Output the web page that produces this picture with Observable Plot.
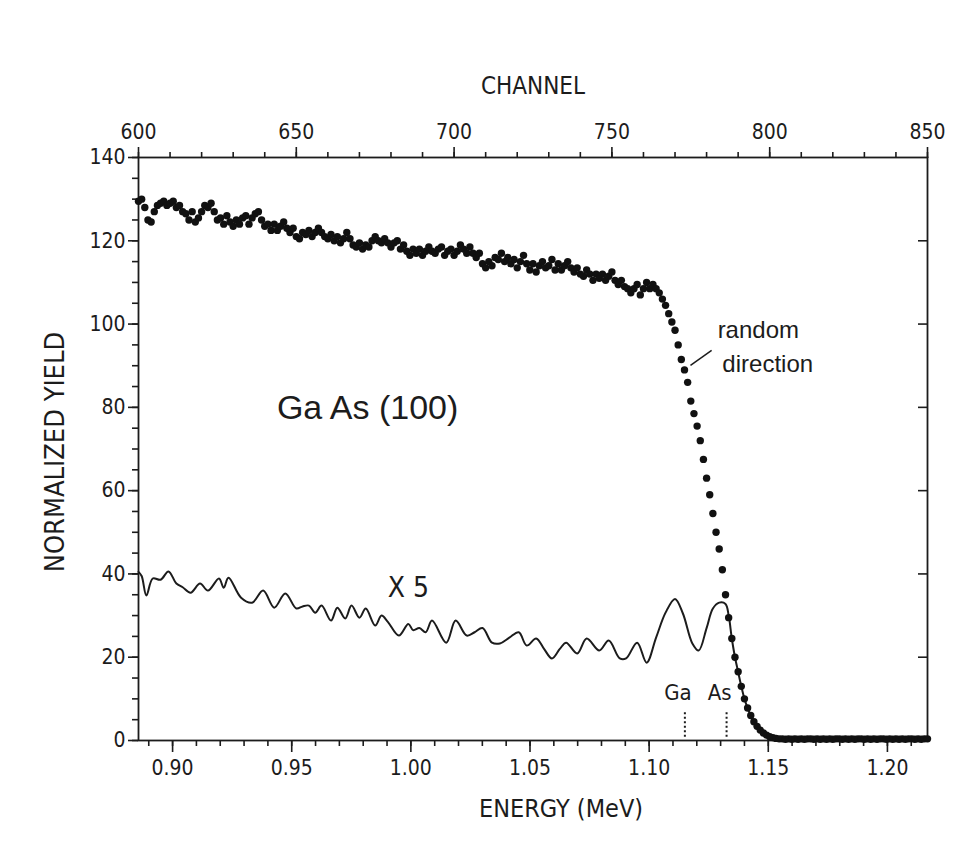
<!DOCTYPE html>
<html><head><meta charset="utf-8">
<script src="https://cdn.jsdelivr.net/npm/d3@7"></script>
<script src="https://cdn.jsdelivr.net/npm/@observablehq/plot@0.6"></script>
<style>
html,body{margin:0;padding:0;background:#fff;}
#chart svg{display:block;}
</style></head><body><div id="chart"></div>
<script>
// ---- axis tick values ----
const channelTicks = [600, 650, 700, 750, 800, 850];
const channelMinorTicks = d3.range(600, 851, 10);
const energyTicks = [0.90, 0.95, 1.00, 1.05, 1.10, 1.15, 1.20];
const energyMinorTicks = d3.range(89, 122).map(d => d / 100);
const yieldTicks = [0, 20, 40, 60, 80, 100, 120, 140];
const yieldMinorTicks = d3.range(0, 141, 5);
const rightTicks = [20, 40, 60, 80, 100, 120];

// ---- energy calibration (channel = offset + slope * (E - 0.90)) ----
const channelAt090 = 610.8;
const channelsPerMeV = 755;
const e2c = e => channelAt090 + (e - 0.90) * channelsPerMeV;
const c2e = c => 0.90 + (c - channelAt090) / channelsPerMeV;

// ---- random direction spectrum: one value per channel, from 600 ----
const randomStartChannel = 600;
const randomYield = [
  129.5,130,128,125,124.5,127,128.5,129,129.5,128.5,
  129,129.5,128,128.5,127,126.5,125,127,124.5,125.5,
  127,128.5,128,129,127,125,125.5,124,126,124.5,
  123.5,125,124,125.5,126,124,125.5,126.5,127,125,
  123.5,124,122.5,124,122.5,123.5,124.5,123,122,123,
  121,120.5,122,121.5,122.5,121,122,123,122,121,
  120.5,121.5,120,121,119.5,120.5,122,120.5,119,118.5,
  119.5,118,119,118.5,120,121,120,119.5,120.5,119.5,
  118.5,119.5,120,118,119,117.5,116.5,118,117,118,
  116.5,117.5,118.5,117.5,117,118,118.5,116.5,117.5,118,
  116.5,117.5,119,118,117,118.5,117,116,117,114.5,
  113.5,115,114,116,115.5,117,115,116,114.5,115.5,
  113.5,115,116.5,114.5,113,114.5,112.5,114,115,113.5,
  114,115.5,113,114.5,113,114,115,113.5,112.5,113.5,
  112,111.5,113,112,110.5,112,111,112,110.5,111.5,
  112.5,110.5,109.5,110.5,109,108.5,107.5,108.5,109.5,107,
  108.5,110,108.5,109.5,108.5,107.5,106,104.5,102.5,100.5,
  98.5,95,91.5,89,86,81.5,78.5,75.5,72,67.5,
  63,59,54.5,50,46,41,35,29.5,24.5,20,
  16.5,13,10,7.8,6,4.5,3.4,2.5,1.8,1.3,
  0.9,0.7,0.5,0.4,0.4,0.3,0.4,0.3,0.4,0.3,
  0.4,0.3,0.4,0.4,0.3,0.4,0.3,0.4,0.3,0.4,
  0.3,0.4,0.4,0.3,0.4,0.3,0.4,0.3,0.4,0.4,
  0.3,0.4,0.3,0.4,0.3,0.4,0.4,0.3,0.4,0.3,
  0.4,0.3,0.4,0.3,0.4,0.4,0.3,0.4,0.3,0.4,
  0.4
];

// ---- aligned spectrum (x5): vertices ----
const x5Channel = [600,601,602.5,604.5,607,609.5,612,614,616.5,619.5,622,625.5,627,628.5,632.5,636,639.5,643,646.5,650,652,654,656,658,661,663,665.5,667.5,670,672,675,677,679,682.5,685.5,687,689,691,693,697.5,700.5,704,706.5,709,712,714.5,717.5,720.5,723,726,728.5,731,733.5,735.5,739,742,746,749,752.5,754.5,758,761,764,767,770,772.5,775.5,777.5,780,782,784,786,787,788,789,790,791,792,793,794,795,796,797,798,799,800,802,850];
const x5Yield = [40.5,39.5,34.8,38.9,38.6,40.6,37.7,36.8,35.5,37.7,36,38.9,36.7,39.1,34.3,33.1,36,31.9,35.3,31.7,32.2,32.4,30.7,32.4,28.8,31.9,29.3,32.4,29.5,31.7,27.6,30,28.5,25.2,28,26.5,27,26,28.8,23.5,28.8,25.2,26,27,23.5,23.3,24.7,26,22.8,24.5,22,19.7,22,23.5,20.9,24.5,21.6,24,19.7,19.7,23.5,18.7,24.7,30.7,34,30.5,23.3,21.6,27,31.7,33.1,32.8,30,24.5,20,16.5,13,10,7.8,6,4.5,3.4,2.5,1.8,1.3,0.9,0.5,0.4];

// ---- surface edge markers ----
const edgeLabels = ["Ga", "As"];
const edgeEnergy = [1.115, 1.1325];

const randomData = randomYield.map((v, i) => ({channel: randomStartChannel + i, yield: v}));
const x5Data = x5Channel.map((c, i) => ({channel: c, yield: x5Yield[i]}));
const edgeData = edgeLabels.map((l, i) => ({label: l, channel: e2c(edgeEnergy[i])}));

const FONT = "'Liberation Sans Narrow','DejaVu Sans Condensed','Roboto Condensed',sans-serif";
const FONT2 = "'Liberation Sans',Arial,sans-serif";
const INK = "#1c1c1c";
const fmtE = d3.format(".2f");

const plot = Plot.plot({
  width: 953,
  height: 848,
  marginTop: 157,
  marginBottom: 108,
  marginLeft: 138,
  marginRight: 26,
  x: {domain: [600, 850]},
  y: {domain: [0, 140]},
  style: {fontFamily: FONT, fontSize: "21px", color: INK, background: "#fff", overflow: "visible"},
  marks: [
    // top channel axis
    Plot.axisX({anchor: "top", ticks: channelMinorTicks, tickSize: 6, tickFormat: () => "", label: null, strokeWidth: 1.6}),
    Plot.axisX({anchor: "top", ticks: channelTicks, tickSize: 11, tickPadding: 8, tickFormat: d => String(d), label: null, fontSize: 21, strokeWidth: 1.6}),
    // bottom energy axis
    Plot.axisX({anchor: "bottom", ticks: energyMinorTicks.map(e2c), tickSize: 6, tickFormat: () => "", label: null, strokeWidth: 1.6}),
    Plot.axisX({anchor: "bottom", ticks: energyTicks.map(e2c), tickSize: 12, tickPadding: 8, tickFormat: d => fmtE(c2e(d)), label: null, fontSize: 21, strokeWidth: 1.6}),
    // left yield axis
    Plot.axisY({anchor: "left", ticks: yieldMinorTicks, tickSize: 6, tickFormat: () => "", label: null, strokeWidth: 1.6}),
    Plot.axisY({anchor: "left", ticks: yieldTicks, tickSize: 10, tickPadding: 3, label: null, fontSize: 21, strokeWidth: 1.6}),
    // right inward ticks
    Plot.tickY(rightTicks, {y: d => d, insetLeft: 780, stroke: INK, strokeWidth: 1.6}),
    Plot.frame({stroke: INK, strokeWidth: 1.8}),
    // spectra
    Plot.line(x5Data, {x: "channel", y: "yield", curve: "catmull-rom", stroke: INK, strokeWidth: 2}),
    Plot.dot(randomData, {x: "channel", y: "yield", r: 3.7, fill: "#111", stroke: null}),
    // edge markers
    Plot.ruleX(edgeData, {x: "channel", y1: 0.8, y2: 6.8, stroke: INK, strokeWidth: 2, strokeDasharray: "2,2.5"}),
    Plot.text(edgeData, {x: "channel", y: 11.3, text: "label", dx: -7, fontSize: 22, fill: INK}),
    // annotations
    Plot.text(["Ga As (100)"], {x: 672.6, y: 79.7, fontSize: 34, fontFamily: FONT2, fill: INK}),
    Plot.text(["X 5"], {x: 685.5, y: 36.7, fontSize: 28, fill: INK}),
    Plot.text(["random"], {x: 783.5, y: 98.5, textAnchor: "start", fontSize: 24, fontFamily: FONT2, fill: INK}),
    Plot.text(["direction"], {x: 785, y: 90.3, textAnchor: "start", fontSize: 24, fontFamily: FONT2, fill: INK}),
    Plot.link([{x1: 781.6, y1: 93.7, x2: 774.9, y2: 90.1}], {x1: "x1", y1: "y1", x2: "x2", y2: "y2", stroke: INK, strokeWidth: 1.5}),
    // axis titles
    Plot.text(["CHANNEL"], {frameAnchor: "top", dy: -71, lineAnchor: "middle", fontSize: 24, fill: INK}),
    Plot.text(["ENERGY (MeV)"], {frameAnchor: "bottom", dx: 28, dy: 68, lineAnchor: "middle", fontSize: 25, fill: INK}),
    Plot.text(["NORMALIZED YIELD"], {frameAnchor: "left", dx: -83, dy: 3, rotate: -90, textAnchor: "middle", lineAnchor: "middle", fontSize: 27, fill: INK})
  ]
});
document.getElementById("chart").appendChild(plot);
</script>
</body></html>
